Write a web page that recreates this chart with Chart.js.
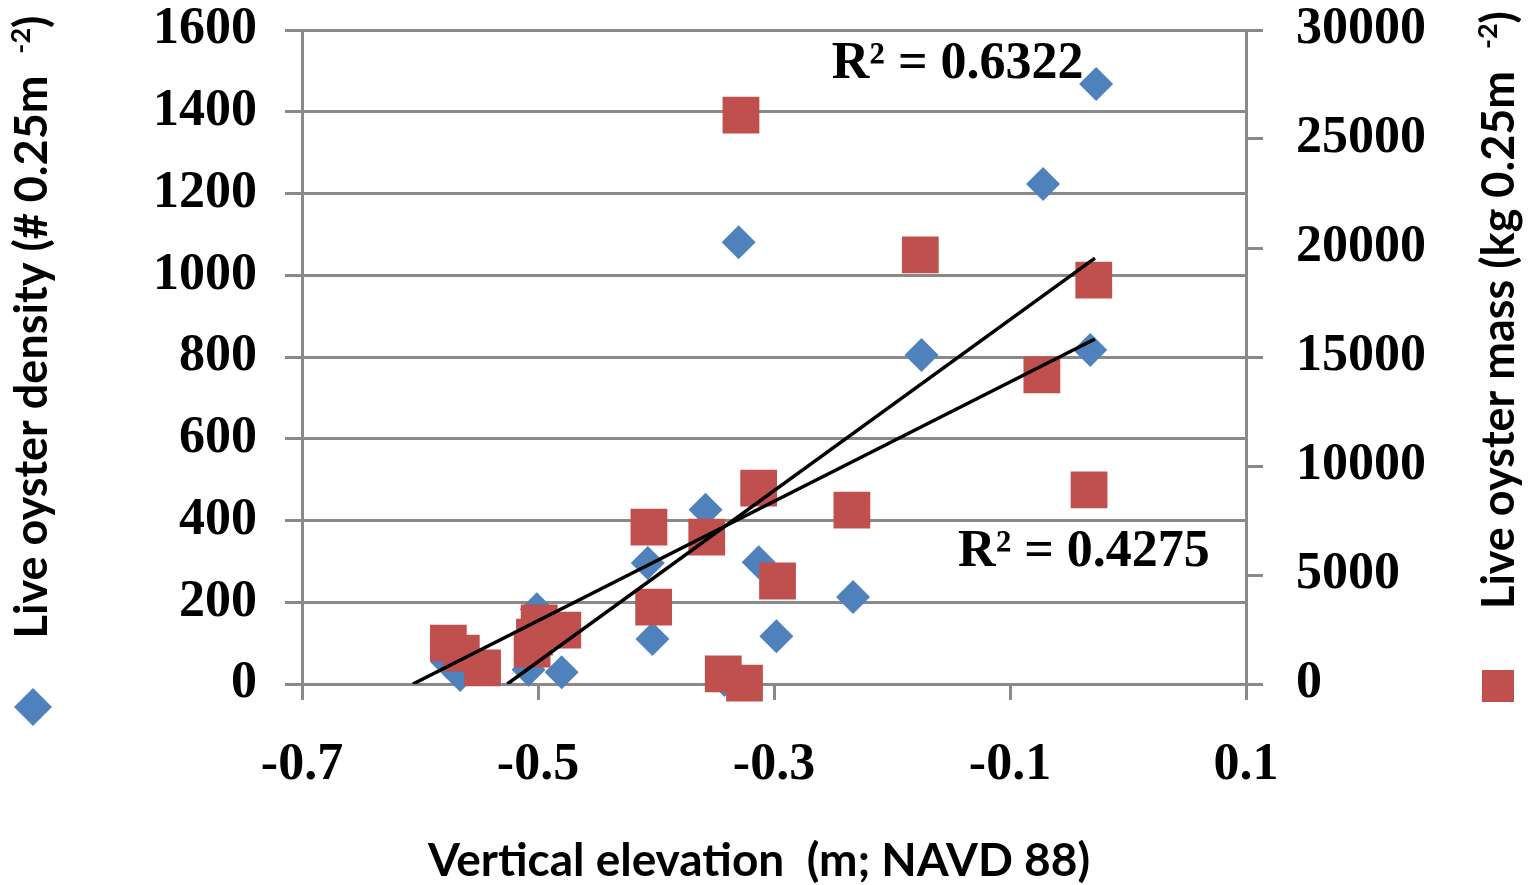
<!DOCTYPE html>
<html>
<head>
<meta charset="utf-8">
<script src="https://cdn.jsdelivr.net/npm/chart.js@4.4.0/dist/chart.umd.min.js"></script>
<style>
  html, body { margin: 0; padding: 0; background: #fff; }
  #wrap { width: 1536px; height: 885px; }
</style>
</head>
<body>
<div id="wrap"><canvas id="oysterChart" width="1536" height="885"></canvas></div>
<script>
// ticks
const xTicks = [-0.7, -0.5, -0.3, -0.1, 0.1]
const densityTicks = [0, 200, 400, 600, 800, 1000, 1200, 1400, 1600]
const massTicks = [0, 5000, 10000, 15000, 20000, 25000, 30000]

// live oyster density (# 0.25m-2), left axis
const densityX = [-0.577, -0.566, -0.501, -0.508, -0.480, -0.407, -0.403, -0.358, -0.330, -0.342, -0.329, -0.313, -0.298, -0.233, -0.175, -0.072, -0.027, -0.032]
const densityY = [54, 22, 183, 35, 29, 296, 110, 426, 1081, 10, 0, 298, 117, 213, 805, 1223, 1468, 817]

// live oyster mass (kg 0.25m-2), right axis
const massX = [-0.328, -0.176, -0.029, -0.073, -0.033, -0.313, -0.234, -0.406, -0.357, -0.297, -0.402, -0.499, -0.479, -0.503, -0.505, -0.576, -0.565, -0.547, -0.343, -0.325]
const massY = [26100, 19680, 18530, 14175, 8900, 8990, 7980, 7200, 6740, 4725, 3530, 2800, 2475, 2155, 1605, 1880, 1420, 735, 460, 45]

// trend lines (end points)
const densityTrendX = [-0.526, -0.028]
const densityTrendY = [0, 1042]
const massTrendX = [-0.606, -0.028]
const massTrendY = [0, 15825]

const densityR2 = "R² = 0.6322"
const massR2 = "R² = 0.4275"

const gridGray = '#898989'
const blue = '#4f81bd'
const red = '#c0504d'

function toPoints(xs, ys) {
  return xs.map((x, i) => ({ x: x, y: ys[i] }))
}

function setTicks(list) {
  return function (scale) {
    scale.ticks = list.map((v) => ({ value: v }))
  }
}

// text with a superscript part, centred on cx
function drawSupText(ctx, base, sup, tail, cx, baseY, size) {
  const mainFont = 'bold ' + size + 'px Lato'
  const supFont = 'bold ' + Math.round(size * 0.6) + 'px Lato'
  ctx.font = mainFont
  const w1 = ctx.measureText(base).width
  const w3 = ctx.measureText(tail).width
  ctx.font = supFont
  const w2 = ctx.measureText(sup).width
  let x = cx - (w1 + w2 + w3) / 2
  ctx.textAlign = 'left'
  ctx.textBaseline = 'alphabetic'
  ctx.font = mainFont
  ctx.fillText(base, x, baseY)
  x += w1
  ctx.font = supFont
  ctx.fillText(sup, x, baseY - size * 0.38)
  x += w2
  ctx.font = mainFont
  ctx.fillText(tail, x, baseY)
}

const extraText = {
  id: 'extraText',
  afterDraw(chart) {
    const ctx = chart.ctx
    const xs = chart.scales.x
    const yl = chart.scales.y
    const yr = chart.scales.y2
    ctx.save()
    ctx.fillStyle = '#000'

    // R² labels
    ctx.font = 'bold 52px "Liberation Serif"'
    ctx.textAlign = 'left'
    ctx.textBaseline = 'alphabetic'
    ctx.fillText(densityR2, xs.getPixelForValue(-0.251), yl.getPixelForValue(1483))
    ctx.fillText(massR2, xs.getPixelForValue(-0.144), yr.getPixelForValue(5400))

    // axis titles
    drawSupText(ctx, 'Vertical elevation  (m; NAVD 88)', '', '', 759, 876, 46)

    ctx.save()
    ctx.translate(47, 327)
    ctx.rotate(-Math.PI / 2)
    drawSupText(ctx, 'Live oyster density (# 0.25m  ', '-2', ')', 0, 0, 45)
    ctx.restore()

    ctx.save()
    ctx.translate(1514, 310)
    ctx.rotate(-Math.PI / 2)
    drawSupText(ctx, 'Live oyster mass (kg 0.25m  ', '-2', ')', 0, 0, 45)
    ctx.restore()

    // legend markers
    ctx.fillStyle = blue
    ctx.beginPath()
    ctx.moveTo(14, 707); ctx.lineTo(33, 688); ctx.lineTo(52, 707); ctx.lineTo(33, 726)
    ctx.closePath()
    ctx.fill()
    ctx.fillStyle = red
    ctx.fillRect(1482, 670, 32, 32)
    ctx.restore()
  }
}

const config = {
  type: 'scatter',
  data: {
    datasets: [
      {
        label: 'density trend',
        type: 'line',
        data: toPoints(densityTrendX, densityTrendY),
        yAxisID: 'y',
        borderColor: '#000',
        borderWidth: 3.5,
        pointRadius: 0,
        fill: false,
        order: 0
      },
      {
        label: 'mass trend',
        type: 'line',
        data: toPoints(massTrendX, massTrendY),
        yAxisID: 'y2',
        borderColor: '#000',
        borderWidth: 3.5,
        pointRadius: 0,
        fill: false,
        order: 0
      },
      {
        label: 'Live oyster mass',
        data: toPoints(massX, massY),
        yAxisID: 'y2',
        pointStyle: 'rect',
        pointRadius: 26,
        pointBorderWidth: 0,
        backgroundColor: red,
        borderColor: red,
        clip: false,
        order: 1
      },
      {
        label: 'Live oyster density',
        data: toPoints(densityX, densityY),
        yAxisID: 'y',
        pointStyle: 'rectRot',
        pointRadius: 17,
        pointBorderWidth: 0,
        backgroundColor: blue,
        borderColor: blue,
        clip: false,
        order: 2
      }
    ]
  },
  plugins: [extraText],
  options: {
    responsive: false,
    animation: false,
    layout: { padding: { top: 30, left: 0, right: 0, bottom: 0 } },
    plugins: {
      legend: { display: false },
      tooltip: { enabled: false }
    },
    scales: {
      x: {
        type: 'linear',
        min: -0.7,
        max: 0.1,
        afterBuildTicks: setTicks(xTicks),
        afterFit(scale) { scale.height = 201 },
        grid: { drawOnChartArea: false, color: gridGray, lineWidth: 3, tickLength: 16 },
        border: { color: gridGray, width: 3 },
        ticks: {
          color: '#000',
          padding: 40,
          maxRotation: 0,
          font: { family: '"Liberation Serif"', size: 52, weight: 'bold', lineHeight: 1 },
          callback: (v) => String(v)
        }
      },
      y: {
        position: 'left',
        min: 0,
        max: 1600,
        afterBuildTicks: setTicks(densityTicks),
        afterFit(scale) {
          scale.width = 302
          scale.paddingTop = 0
          scale.paddingBottom = 0
        },
        grid: { color: gridGray, lineWidth: 3, tickLength: 17 },
        border: { color: gridGray, width: 3 },
        ticks: {
          color: '#000',
          padding: 28,
          font: { family: '"Liberation Serif"', size: 52, weight: 'bold', lineHeight: 1 },
          callback: (v) => String(v)
        }
      },
      y2: {
        position: 'right',
        min: 0,
        max: 30000,
        afterBuildTicks: setTicks(massTicks),
        afterFit(scale) {
          scale.width = 290
          scale.paddingTop = 0
          scale.paddingBottom = 0
        },
        grid: { drawOnChartArea: false, color: gridGray, lineWidth: 3, tickLength: 17 },
        border: { color: gridGray, width: 3 },
        ticks: {
          color: '#000',
          padding: 33,
          font: { family: '"Liberation Serif"', size: 52, weight: 'bold', lineHeight: 1 },
          callback: (v) => String(v)
        }
      }
    }
  }
}

const oysterChart = new Chart(document.getElementById('oysterChart'), config)
</script>
</body>
</html>
